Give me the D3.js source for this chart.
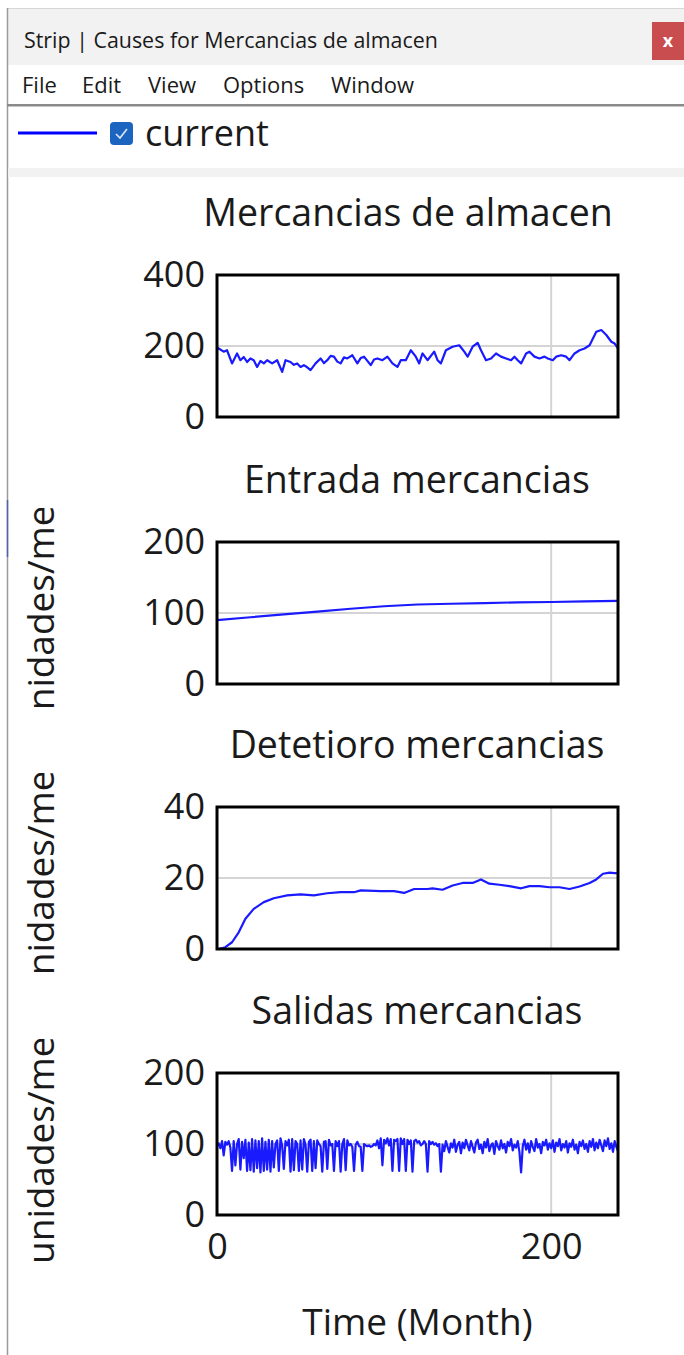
<!DOCTYPE html>
<html><head><meta charset="utf-8">
<script src="https://cdn.jsdelivr.net/npm/d3@7"></script>
<style>
body{margin:0;background:#fff}
svg{display:block;font-family:"Open Sans","Noto Sans",sans-serif}
</style>
</head><body><svg id="c" width="684" height="1355"></svg>
<script>
// ---------- text ----------
const windowTitle = "Strip | Causes for Mercancias de almacen";
const menuItems = ["File", "Edit", "View", "Options", "Window"];
const legendLabel = "current";
const panelTitles = ["Mercancias de almacen", "Entrada mercancias", "Detetioro mercancias", "Salidas mercancias"];
const yAxisLabels = [null, "unidades/mes", "unidades/mes", "unidades/mes"];
const xAxisLabel = "Time (Month)";

// ---------- axes ----------
const xDomain = [0, 240];
const xTickValues = [0, 200];
const xGridValues = [200];
const yDomains = [[0, 400], [0, 200], [0, 40], [0, 200]];
const yTickValues = [[0, 200, 400], [0, 100, 200], [0, 20, 40], [0, 100, 200]];
const yGridValues = [[200], [100], [20], [100]];

// ---------- series ----------
const stockTime = [0,1,4,6,9,12,14,16,18,20,22,24,26,28,30,33,36,39,41,44,46,48,50,52,54,56,59,62,64,66,68,70,72,74,76,78,81,84,86,88,90,92,94,96,99,102,105,108,110,113,116,119,121,123,126,130,132,134,137,141,145,148,150,153,156,158,161,164,167,170,173,176,178,180,182,185,187,190,193,196,198,201,203,206,209,211,214,217,220,223,225,227,230,233,236,238,240];
const stockValues = [195,193,184,188,151,179,160,169,155,165,160,141,158,151,160,151,160,127,160,155,147,151,141,146,140,132,151,165,152,160,172,170,156,151,168,165,174,151,166,170,158,146,162,165,160,170,151,141,160,160,188,170,151,179,160,184,160,151,188,198,202,184,170,198,209,188,160,165,179,170,165,160,170,160,151,179,184,170,165,170,165,160,170,174,170,160,179,188,193,202,221,240,245,231,212,207,193];

const inflowTime = [0,20,40,60,80,100,120,140,160,180,200,220,240];
const inflowValues = [90,94,98,102,106,109.5,112,113,114,115,115.5,116.5,117];

const decayTime = [0,1,5,9,13,17,22,28,34,42,50,58,66,74,82,86,98,106,112,118,126,129,135,141,147,153,158,163,169,175,182,187,193,199,205,211,217,223,227,231,235,238,240];
const decayValues = [0,0,0.5,1.9,4.7,8.5,11.3,13.2,14.3,15.1,15.4,15.1,15.7,16,16,16.5,16.3,16.3,15.8,16.9,16.9,17.1,16.7,17.9,18.6,18.6,19.6,18.4,18.1,17.7,17.1,17.7,17.7,17.4,17.4,16.9,17.6,18.6,19.6,21.2,21.5,21.4,21.3];

// Salidas mercancias: one value per month, t = 0..240
const outflowValues = [
  97,101,94,104,84,103,99,104,95,62,
  104,70,100,107,64,103,80,106,62,102,
  63,107,61,105,66,104,60,108,62,103,
  64,106,61,104,67,100,105,62,108,98,
  65,104,98,106,61,107,63,104,100,62,
  105,64,107,99,61,103,106,62,104,66,
  105,100,97,61,103,104,65,106,98,100,
  62,104,97,104,61,100,107,63,105,98,
  100,96,62,99,103,97,96,62,100,98,
  97,98,96,97,100,98,105,94,108,70,
  106,101,108,98,107,62,106,104,107,62,
  108,100,107,62,106,100,105,61,104,106,
  102,104,98,100,104,100,61,104,100,103,
  99,101,97,100,61,99,90,104,96,88,
  101,95,106,89,99,103,87,102,94,106,
  98,91,104,96,88,102,106,93,99,87,
  103,95,107,90,98,101,86,104,97,92,
  105,94,100,88,103,97,107,91,99,95,
  104,89,60,97,106,92,101,88,104,96,
  90,107,95,100,87,103,98,106,92,101,
  94,105,89,102,97,107,91,100,95,104,
  88,101,96,106,92,99,87,103,97,105,
  93,100,89,104,96,107,91,102,94,106,
  98,90,105,97,108,93,101,89,104,96,
  90];
const outflowTime = outflowValues.map((_, i) => i);

const seriesList = [
  {t: stockTime, v: stockValues},
  {t: inflowTime, v: inflowValues},
  {t: decayTime, v: decayValues},
  {t: outflowTime, v: outflowValues}
];

// ---------- layout ----------
const W = 684, H = 1355;
const FONT = '"Open Sans","Noto Sans",sans-serif';
const plotLeft = 217, plotRight = 618, plotH = 142;
const panelTops = [275, 542, 807, 1073];
const titleCenters = [408, 417, 417, 417];
const lineColor = "#1a1aff";
const txt = "#1a1a1a";
const svg = d3.select("#c");

// window chrome
svg.append("rect").attr("x", 0).attr("y", 0).attr("width", W).attr("height", H).attr("fill", "#fff");
svg.append("rect").attr("x", 7).attr("y", 8).attr("width", W - 7).attr("height", 57).attr("fill", "#f2f2f2");
svg.append("line").attr("x1", 7).attr("x2", W).attr("y1", 8.5).attr("y2", 8.5).attr("stroke", "#d6d6d6");
svg.append("line").attr("x1", 7.5).attr("x2", 7.5).attr("y1", 8).attr("y2", H).attr("stroke", "#9a9a9a").attr("stroke-width", 1.5);
svg.append("line").attr("x1", 7.5).attr("x2", 7.5).attr("y1", 500).attr("y2", 557).attr("stroke", "#5560b0").attr("stroke-width", 1.5);
svg.append("text").attr("x", 24).attr("y", 48).attr("font-size", 21.4).attr("fill", txt).text(windowTitle);
svg.append("rect").attr("x", 652).attr("y", 22).attr("width", 32).attr("height", 38).attr("fill", "#c94c4f");
svg.append("text").attr("x", 668).attr("y", 47).attr("text-anchor", "middle").attr("font-size", 18).attr("font-weight", "bold").attr("fill", "#fff").text("x");

// menu
const menuX = [22, 82, 148, 223, 331];
svg.selectAll("text.menu").data(menuItems).join("text").attr("class", "menu")
  .attr("x", (d, i) => menuX[i]).attr("y", 93).attr("font-size", 22).attr("fill", txt).text(d => d);
svg.append("rect").attr("x", 7).attr("y", 104).attr("width", W - 7).attr("height", 2.5).attr("fill", "#8a8a8a");

// legend
svg.append("line").attr("x1", 18).attr("x2", 97).attr("y1", 133).attr("y2", 133).attr("stroke", "#0000ff").attr("stroke-width", 3);
svg.append("rect").attr("x", 110).attr("y", 122).attr("width", 23).attr("height", 23).attr("rx", 4).attr("fill", "#1b64c0");
svg.append("path").attr("d", "M116,134 L120,138 L127,129").attr("fill", "none").attr("stroke", "#dfe8f5").attr("stroke-width", 1.6);
svg.append("text").attr("x", 145).attr("y", 146).attr("font-size", 36).attr("fill", txt).text(legendLabel);
svg.append("rect").attr("x", 8).attr("y", 168).attr("width", W - 8).attr("height", 9).attr("fill", "#f2f2f2");

// panels
const x = d3.scaleLinear().domain(xDomain).range([plotLeft, plotRight]);
const defs = svg.append("defs");

panelTitles.forEach((title, i) => {
  const top = panelTops[i], bottom = top + plotH;
  const y = d3.scaleLinear().domain(yDomains[i]).range([bottom, top]);
  const g = svg.append("g");

  g.append("text").attr("x", titleCenters[i]).attr("y", top - 49)
    .attr("text-anchor", "middle").attr("font-size", 37.5).attr("fill", txt).text(title);

  // grid
  g.selectAll("line.gy").data(yGridValues[i]).join("line").attr("class", "gy")
    .attr("x1", plotLeft).attr("x2", plotRight).attr("y1", d => y(d)).attr("y2", d => y(d))
    .attr("stroke", "#d4d4d4").attr("stroke-width", 2);
  g.selectAll("line.gx").data(xGridValues).join("line").attr("class", "gx")
    .attr("x1", d => x(d)).attr("x2", d => x(d)).attr("y1", top).attr("y2", bottom)
    .attr("stroke", "#d4d4d4").attr("stroke-width", 2);

  // y tick labels
  const yAxis = d3.axisLeft(y).tickValues(yTickValues[i]).tickSize(0).tickPadding(12).tickFormat(d3.format("d"));
  const ga = g.append("g").attr("transform", `translate(${plotLeft},0)`).call(yAxis);
  ga.select(".domain").remove();
  ga.selectAll("text").attr("font-size", 36).attr("fill", txt).attr("font-family", FONT);

  // series
  const s = seriesList[i];
  const pts = s.t.map((t, k) => [t, s.v[k]]);
  g.append("path").datum(pts)
    .attr("d", d3.line().x(d => x(d[0])).y(d => y(d[1])))
    .attr("fill", "none").attr("stroke", lineColor).attr("stroke-width", 2.2).attr("stroke-linejoin", "round");

  // frame
  g.append("rect").attr("x", plotLeft).attr("y", top).attr("width", plotRight - plotLeft).attr("height", plotH)
    .attr("fill", "none").attr("stroke", "#000").attr("stroke-width", 3);

  // clipped units label
  if (yAxisLabels[i]) {
    const clipTop = top - 34;
    const clipBottom = i === panelTitles.length - 1 ? H : bottom + 26;
    defs.append("clipPath").attr("id", "clipY" + i).append("rect")
      .attr("x", 0).attr("y", clipTop).attr("width", 90).attr("height", clipBottom - clipTop);
    g.append("g").attr("clip-path", `url(#clipY${i})`)
      .append("text")
      .attr("transform", `translate(54,${bottom + 49}) rotate(-90)`)
      .attr("text-anchor", "start").attr("font-size", 37).attr("fill", txt).text(yAxisLabels[i]);
  }

  // x axis on last panel
  if (i === panelTitles.length - 1) {
    const xAxis = d3.axisBottom(x).tickValues(xTickValues).tickSize(0).tickPadding(18).tickFormat(d3.format("d"));
    const gx = g.append("g").attr("transform", `translate(0,${bottom})`).call(xAxis);
    gx.select(".domain").remove();
    gx.selectAll("text").attr("font-size", 36).attr("fill", txt).attr("font-family", FONT);
    g.append("text").attr("x", (plotLeft + plotRight) / 2).attr("y", 1335)
      .attr("text-anchor", "middle").attr("font-size", 37).attr("fill", txt).text(xAxisLabel);
  }
});
</script>
</body></html>
